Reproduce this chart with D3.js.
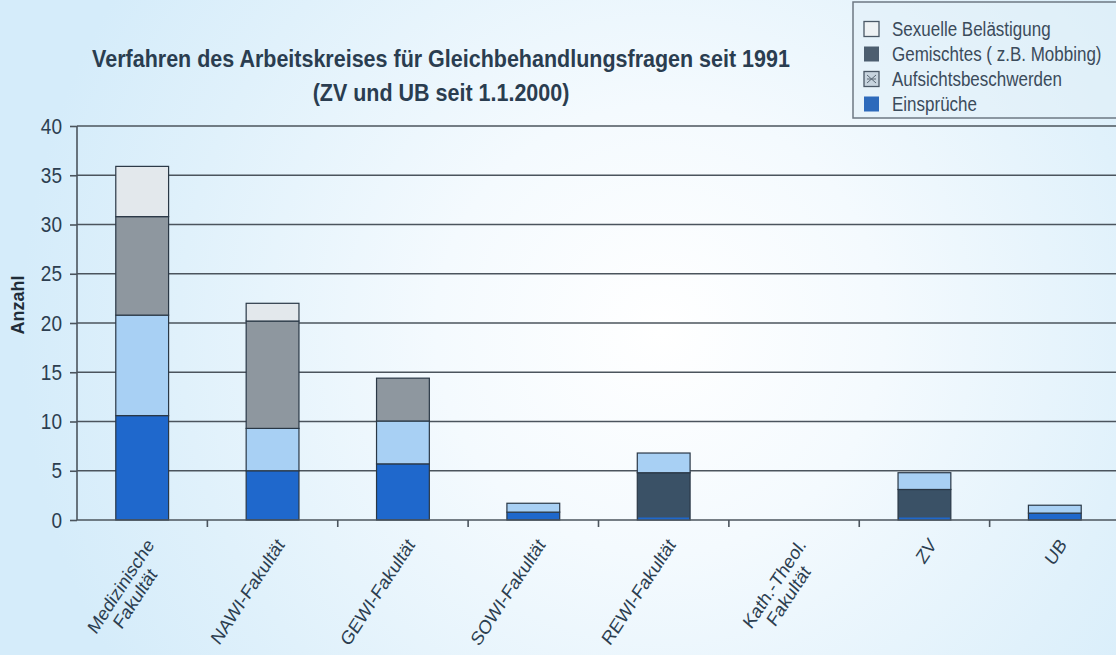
<!DOCTYPE html>
<html>
<head>
<meta charset="utf-8">
<script src="https://cdn.jsdelivr.net/npm/d3@7"></script>
<style>
  html, body { margin: 0; padding: 0; overflow: hidden; background: #d8edfa; }
  svg { display: block; font-family: "Liberation Sans", Arial, sans-serif; }
</style>
</head>
<body>
<svg id="chart" width="1116" height="655"></svg>
<script>
// Categories (x axis) — "\n" marks a line break in the label
const categories = [
  "Medizinische\nFakultät", "NAWI-Fakultät", "GEWI-Fakultät", "SOWI-Fakultät",
  "REWI-Fakultät", "Kath.-Theol.\nFakultät", "ZV", "UB"
];

// Series, stacked bottom to top
const seriesNames = ["Einsprüche", "Aufsichtsbeschwerden", "Gemischtes ( z.B. Mobbing)", "Sexuelle Belästigung"];
const einsprueche          = [10.6, 5.0, 5.7, 0.8, 4.8, 0, 3.1, 0.7];
const aufsichtsbeschwerden = [10.2, 4.3, 4.35, 0.9, 2.0, 0, 1.7, 0.8];
const gemischtes           = [10.0, 10.9, 4.35, 0, 0, 0, 0, 0];
const sexuelleBelaestigung = [5.1, 1.8, 0, 0, 0, 0, 0, 0];

// Axis ticks
const yTicks = [0, 5, 10, 15, 20, 25, 30, 35, 40];

const titleLines = ["Verfahren des Arbeitskreises für Gleichbehandlungsfragen seit 1991", "(ZV und UB seit 1.1.2000)"];
const yAxisTitle = "Anzahl";

// ---- styles ----
const barFill = {
  "Einsprüche": "#1f68cc",
  "Aufsichtsbeschwerden": "#a8d0f4",
  "Gemischtes ( z.B. Mobbing)": "#8e979f",
  "Sexuelle Belästigung": "#e3e8ec"
};
const legendFill = {
  "Einsprüche": "#2d6abb",
  "Aufsichtsbeschwerden": "#c7d4de",
  "Gemischtes ( z.B. Mobbing)": "#4c5e6f",
  "Sexuelle Belästigung": "#eef2f4"
};
// bars whose bottom segment prints in the dark shade
const darkBottom = new Set(["REWI-Fakultät", "ZV"]);
const darkShade = "#3a5166";
const inkColor = "#2c3e50";
const gridColor = "#4b545d";
const textStretch = 1.15;   // glyphs print slightly tall

const svg = d3.select("#chart");
const W = 1116, H = 655;

// background wash
const defs = svg.append("defs");
const bg = defs.append("radialGradient").attr("id", "bg")
  .attr("gradientUnits", "userSpaceOnUse")
  .attr("cx", 660).attr("cy", 330).attr("r", 640);
bg.append("stop").attr("offset", "0%").attr("stop-color", "#ffffff");
bg.append("stop").attr("offset", "35%").attr("stop-color", "#f4fafe");
bg.append("stop").attr("offset", "75%").attr("stop-color", "#e0f1fb");
bg.append("stop").attr("offset", "100%").attr("stop-color", "#d5ecfa");
svg.append("rect").attr("width", W).attr("height", H).attr("fill", "url(#bg)");

const plot = { left: 77, right: 1120, top: 126, bottom: 520 };

const x = d3.scaleBand().domain(categories).range([plot.left, plot.right]).padding(0);
const y = d3.scaleLinear().domain([0, 40]).range([plot.bottom, plot.top]);
const barW = x.bandwidth() * 0.405;

// gridlines
svg.append("g").selectAll("line").data(yTicks.filter(d => d > 0)).join("line")
  .attr("x1", plot.left).attr("x2", W)
  .attr("y1", d => y(d)).attr("y2", d => y(d))
  .attr("stroke", gridColor).attr("stroke-width", 1.6);

// stacked data
const table = categories.map((c, i) => ({
  cat: c,
  "Einsprüche": einsprueche[i],
  "Aufsichtsbeschwerden": aufsichtsbeschwerden[i],
  "Gemischtes ( z.B. Mobbing)": gemischtes[i],
  "Sexuelle Belästigung": sexuelleBelaestigung[i]
}));
const stacked = d3.stack().keys(seriesNames)(table);

const bars = svg.append("g");
stacked.forEach(layer => {
  bars.append("g").selectAll("rect")
    .data(layer.filter(d => d[1] - d[0] > 0))
    .join("rect")
    .attr("x", d => x(d.data.cat) + x.bandwidth() / 2 - barW / 2)
    .attr("width", barW)
    .attr("y", d => y(d[1]))
    .attr("height", d => y(d[0]) - y(d[1]))
    .attr("fill", d => (layer.key === "Einsprüche" && darkBottom.has(d.data.cat)) ? darkShade : barFill[layer.key])
    .attr("stroke", "#2a3846")
    .attr("stroke-width", 1.2);
});
// thin blue rim at the foot of the dark-shaded bars
bars.append("g").selectAll("rect")
  .data(table.filter(d => darkBottom.has(d.cat)))
  .join("rect")
  .attr("x", d => x(d.cat) + x.bandwidth() / 2 - barW / 2 + 1)
  .attr("width", barW - 2)
  .attr("y", y(0) - 2.5)
  .attr("height", 2.5)
  .attr("fill", barFill["Einsprüche"]);

// y axis
const yAxis = svg.append("g").attr("transform", `translate(${plot.left},0)`)
  .call(d3.axisLeft(y).tickValues(yTicks).tickSize(7).tickPadding(8).tickFormat(d3.format("d")));
yAxis.select(".domain").attr("stroke", gridColor).attr("stroke-width", 1.6).attr("d", `M0,${plot.top}V${plot.bottom}`);
yAxis.selectAll(".tick line").attr("stroke", gridColor).attr("stroke-width", 1.6);
yAxis.selectAll(".tick text").attr("fill", inkColor).attr("font-size", 19)
  .attr("font-family", "Liberation Sans, Arial, sans-serif")
  .attr("transform", `scale(1,${textStretch})`);

// x axis (ticks on band boundaries)
const xAxisG = svg.append("g");
xAxisG.append("line").attr("x1", plot.left).attr("x2", W)
  .attr("y1", plot.bottom).attr("y2", plot.bottom)
  .attr("stroke", gridColor).attr("stroke-width", 1.6);
xAxisG.selectAll("line.tk").data(categories.slice(1)).join("line").attr("class", "tk")
  .attr("x1", d => x(d)).attr("x2", d => x(d))
  .attr("y1", plot.bottom).attr("y2", plot.bottom + 7)
  .attr("stroke", gridColor).attr("stroke-width", 1.6);

// rotated category labels
const labelSize = 17;
const lab = svg.append("g").selectAll("g").data(categories).join("g")
  .attr("transform", d => `translate(${x(d) + x.bandwidth() / 2 + 8},${plot.bottom + 21}) scale(1,${textStretch}) rotate(-53)`);
lab.each(function (d) {
  const g = d3.select(this);
  const lines = d.split("\n");
  const t = g.append("text").attr("font-size", labelSize).attr("fill", inkColor);
  if (lines.length === 1) {
    t.attr("text-anchor", "end").attr("dy", "0.35em").text(d);
  } else {
    const spans = lines.map((s, i) => t.append("tspan").attr("dy", i === 0 ? "0.35em" : "1.05em").text(s));
    const maxW = d3.max(spans, s => s.node().getComputedTextLength());
    t.attr("text-anchor", "middle");
    spans.forEach(s => s.attr("x", -maxW / 2));
  }
});

// y axis title
svg.append("text")
  .attr("transform", `translate(24,305) rotate(-90)`)
  .attr("text-anchor", "middle")
  .attr("font-size", 18).attr("font-weight", "bold").attr("fill", "#1f2c38")
  .text(yAxisTitle);

// chart title
svg.append("g").selectAll("text").data(titleLines).join("text")
  .attr("transform", (d, i) => `translate(441,${67 + i * 34}) scale(1,${textStretch})`)
  .attr("text-anchor", "middle")
  .attr("font-size", 21.5).attr("font-weight", "bold").attr("fill", "#2a3d50")
  .text(d => d);

// legend
const legend = svg.append("g").attr("transform", "translate(853,2)");
legend.append("rect").attr("width", 280).attr("height", 116)
  .attr("fill", "#e1eff8").attr("fill-opacity", 0.5)
  .attr("stroke", "#6d7883").attr("stroke-width", 1.5);
const legendOrder = seriesNames.slice().reverse();
const li = legend.selectAll("g.item").data(legendOrder).join("g").attr("class", "item")
  .attr("transform", (d, i) => `translate(11,${27 + i * 25})`);
li.append("rect").attr("x", 0).attr("y", -7.5).attr("width", 15).attr("height", 15)
  .attr("fill", d => legendFill[d])
  .attr("stroke", d => d === "Sexuelle Belästigung" || d === "Aufsichtsbeschwerden" ? "#4a5866" : "none")
  .attr("stroke-width", 1.3);
li.filter(d => d === "Aufsichtsbeschwerden").append("path")
  .attr("d", "M3,-4L12,4M12,-4L3,4M3,0H12")
  .attr("stroke", "#5a6875").attr("stroke-width", 1).attr("fill", "none");
li.append("text").attr("x", 28).attr("dy", "0.35em")
  .attr("transform", `scale(1,${textStretch})`)
  .attr("font-size", 17).attr("fill", "#3b4b5b")
  .text(d => d);
</script>
</body>
</html>
